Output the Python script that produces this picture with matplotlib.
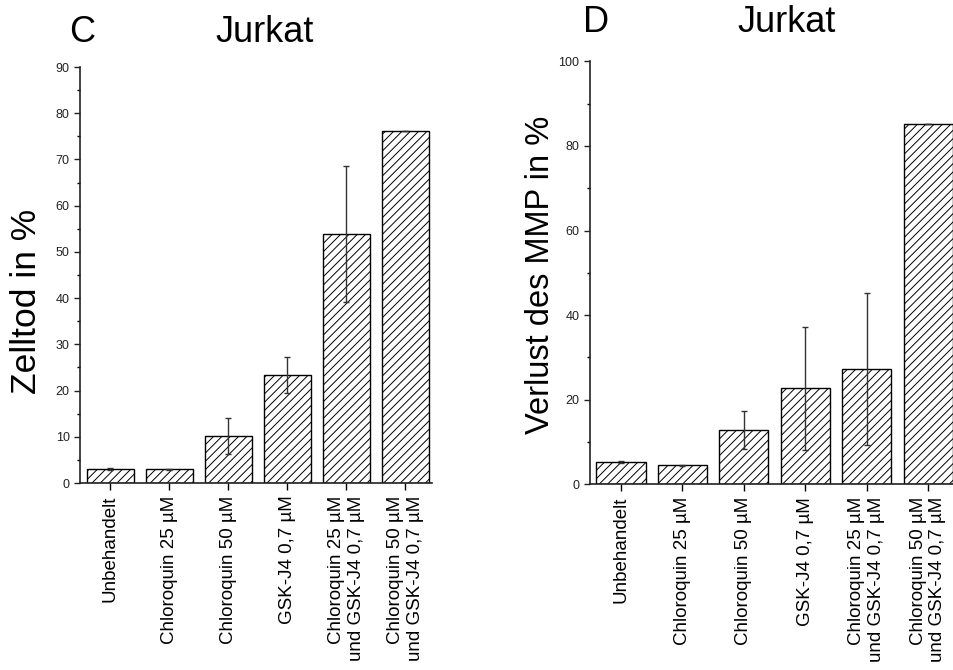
import matplotlib
matplotlib.use('Agg')
import matplotlib.pyplot as plt
from matplotlib.ticker import MultipleLocator

plt.rcParams['font.family'] = ['Liberation Sans', 'DejaVu Sans']
plt.rcParams['hatch.linewidth'] = 0.7

# categories shared by both panels
categories = [
    'Unbehandelt',
    'Chloroquin 25 \u00b5M',
    'Chloroquin 50 \u00b5M',
    'GSK-J4 0,7 \u00b5M',
    'Chloroquin 25 \u00b5M\nund GSK-J4 0,7 \u00b5M',
    'Chloroquin 50 \u00b5M\nund GSK-J4 0,7 \u00b5M',
]

# panel C: cell death (%)
death_mean = [3.1, 3.0, 10.2, 23.4, 53.9, 76.2]
death_err = [0.2, 0.1, 3.9, 3.85, 14.7, 0.0]

# panel D: loss of MMP (%)
mmp_mean = [5.3, 4.5, 12.8, 22.7, 27.3, 85.1]
mmp_err = [0.3, 0.2, 4.5, 14.6, 17.9, 0.0]


def draw_panel(ax, values, errors, ylim, major, minor, ylabel, ylabel_size):
    x = range(len(categories))
    ax.bar(x, values, width=0.8, color='white', edgecolor='black',
           linewidth=1.0, hatch='////', zorder=2)
    ax.errorbar(x, values, yerr=errors, fmt='none', ecolor='#333333',
                elinewidth=1.0, capsize=2.0, capthick=1.0, zorder=3)
    ax.set_ylim(*ylim)
    ax.yaxis.set_major_locator(MultipleLocator(major))
    ax.yaxis.set_minor_locator(MultipleLocator(minor))
    ax.set_xticks(list(x))
    ax.set_xticklabels(categories, rotation=90, fontsize=13.5,
                       multialignment='right')
    ax.tick_params(axis='y', which='major', labelsize=9, length=4,
                   width=1, colors='#222222')
    ax.tick_params(axis='y', which='minor', length=2.5, width=1)
    ax.tick_params(axis='x', length=5, width=1, pad=4)
    for side in ('top', 'right'):
        ax.spines[side].set_visible(False)
    for side in ('left', 'bottom'):
        ax.spines[side].set_linewidth(1.2)
        ax.spines[side].set_color('#222222')
    ax.set_ylabel(ylabel, fontsize=ylabel_size)


fig = plt.figure(figsize=(9.54, 6.7), dpi=100)

ax1 = fig.add_axes([0.0839, 0.279, 0.369, 0.621])
draw_panel(ax1, death_mean, death_err, (0, 90), 10, 5, 'Zelltod in %', 25.5)
ax1.set_xlim(-0.51, 5.45)
ax1.yaxis.set_label_coords(-0.105, 0.437)

ax2 = fig.add_axes([0.6184, 0.277, 0.3816, 0.6315])
draw_panel(ax2, mmp_mean, mmp_err, (0, 100), 20, 10,
           'Verlust des MMP in %', 23.5)
ax2.set_xlim(-0.505, 5.42)
ax2.yaxis.set_label_coords(-0.092, 0.495)

fig.text(0.086, 0.951, 'C', fontsize=26, ha='center', va='center')
fig.text(0.277, 0.951, 'Jurkat', fontsize=26, ha='center', va='center')
fig.text(0.625, 0.966, 'D', fontsize=26, ha='center', va='center')
fig.text(0.825, 0.966, 'Jurkat', fontsize=26, ha='center', va='center')

fig.savefig('out.png', dpi=100)
